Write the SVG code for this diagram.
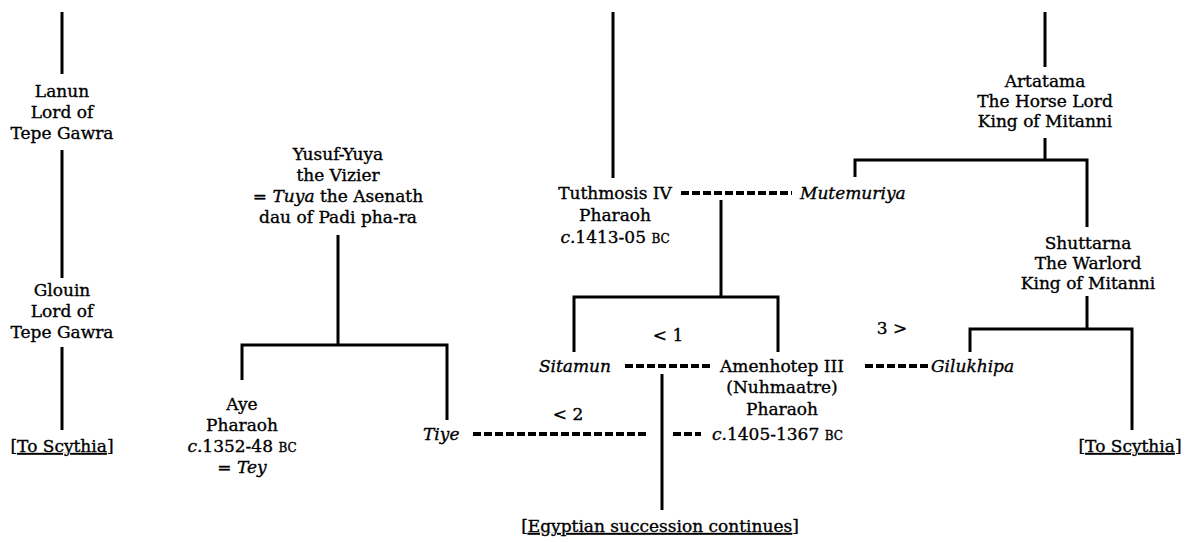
<svg xmlns="http://www.w3.org/2000/svg" width="1196" height="542" viewBox="0 0 1196 542">
  <style>
    text { font-family: "DejaVu Serif", "Liberation Serif", serif; font-size: 17px; fill: #000; stroke: #000; stroke-width: 0.35; text-anchor: middle; }
    .it { font-style: italic; }
    .l { text-anchor: start; }
    .sc { font-size: 12px; }
    .u { text-decoration: underline; }
    .line { stroke: #000; stroke-width: 3; fill: none; stroke-linecap: butt; }
    .wed { stroke: #000; stroke-width: 4; fill: none; stroke-dasharray: 8 3; }
  </style>
  <rect width="1196" height="542" fill="#fff"/>

  <!-- descent lines and marriage links -->
  <g id="connectors">
    <!-- Tepe Gawra line -->
    <path class="line" d="M62 12V74"/>
    <path class="line" d="M62 150V278"/>
    <path class="line" d="M62 347V430"/>
    <!-- Yusuf-Yuya's children -->
    <path class="line" d="M338 235V345"/>
    <path class="line" d="M242 380V345H447V420"/>
    <!-- Tuthmosis line -->
    <path class="line" d="M613 12V178"/>
    <path class="line" d="M721 200V297"/>
    <path class="line" d="M574 352V297H778V352"/>
    <!-- Amenhotep III's succession -->
    <path class="line" d="M662 374V510"/>
    <!-- Mitanni line -->
    <path class="line" d="M1045 12V67"/>
    <path class="line" d="M1045 138V160"/>
    <path class="line" d="M855 177V160H1087V227"/>
    <path class="line" d="M1087 296V329"/>
    <path class="line" d="M970 352V329H1132V430"/>
    <!-- marriages -->
    <path class="wed" d="M681 193H792"/>
    <path class="wed" d="M625 366H711"/>
    <path class="wed" d="M865 366H928"/>
    <path class="wed" d="M473 434H648"/>
    <path class="wed" d="M673 434H701"/>
  </g>

  <g id="lanun">
    <text x="62" y="97">Lanun</text>
    <text x="62" y="118">Lord of</text>
    <text x="62" y="139">Tepe Gawra</text>
  </g>
  <g id="glouin">
    <text x="62" y="296">Glouin</text>
    <text x="62" y="317">Lord of</text>
    <text x="62" y="338">Tepe Gawra</text>
  </g>
  <g id="scythia-left">
    <text x="62" y="452">[<tspan class="u">To Scythia</tspan>]</text>
  </g>

  <g id="yusuf-yuya">
    <text x="338" y="160">Yusuf-Yuya</text>
    <text x="338" y="181">the Vizier</text>
    <text x="338" y="202">= <tspan class="it">Tuya</tspan> the Asenath</text>
    <text x="338" y="223">dau of Padi pha-ra</text>
  </g>
  <g id="aye">
    <text x="242" y="410">Aye</text>
    <text x="242" y="431">Pharaoh</text>
    <text x="242" y="452"><tspan class="it">c.</tspan>1352-48 <tspan class="sc">BC</tspan></text>
    <text x="242" y="473">= <tspan class="it">Tey</tspan></text>
  </g>
  <g id="tiye">
    <text class="it l" x="423" y="440">Tiye</text>
    <text x="568" y="420">&lt; 2</text>
  </g>

  <g id="tuthmosis">
    <text x="615" y="199">Tuthmosis IV</text>
    <text x="615" y="221">Pharaoh</text>
    <text x="615" y="243"><tspan class="it">c.</tspan>1413-05 <tspan class="sc">BC</tspan></text>
  </g>
  <g id="mutemuriya">
    <text class="it l" x="800" y="199">Mutemuriya</text>
  </g>
  <g id="sitamun">
    <text class="it" x="575" y="372">Sitamun</text>
    <text x="668" y="341">&lt; 1</text>
  </g>
  <g id="amenhotep">
    <text x="782" y="372">Amenhotep III</text>
    <text x="782" y="393">(Nuhmaatre)</text>
    <text x="782" y="415">Pharaoh</text>
    <text class="l" x="712" y="440"><tspan class="it">c.</tspan>1405-1367 <tspan class="sc">BC</tspan></text>
  </g>
  <g id="gilukhipa">
    <text class="it l" x="931" y="372">Gilukhipa</text>
    <text x="892" y="334">3 &gt;</text>
  </g>
  <g id="succession">
    <text x="660" y="532">[<tspan class="u">Egyptian succession continues</tspan>]</text>
  </g>

  <g id="artatama">
    <text x="1045" y="87">Artatama</text>
    <text x="1045" y="107">The Horse Lord</text>
    <text x="1045" y="127">King of Mitanni</text>
  </g>
  <g id="shuttarna">
    <text x="1088" y="249">Shuttarna</text>
    <text x="1088" y="269">The Warlord</text>
    <text x="1088" y="289">King of Mitanni</text>
  </g>
  <g id="scythia-right">
    <text x="1130" y="452">[<tspan class="u">To Scythia</tspan>]</text>
  </g>
</svg>
